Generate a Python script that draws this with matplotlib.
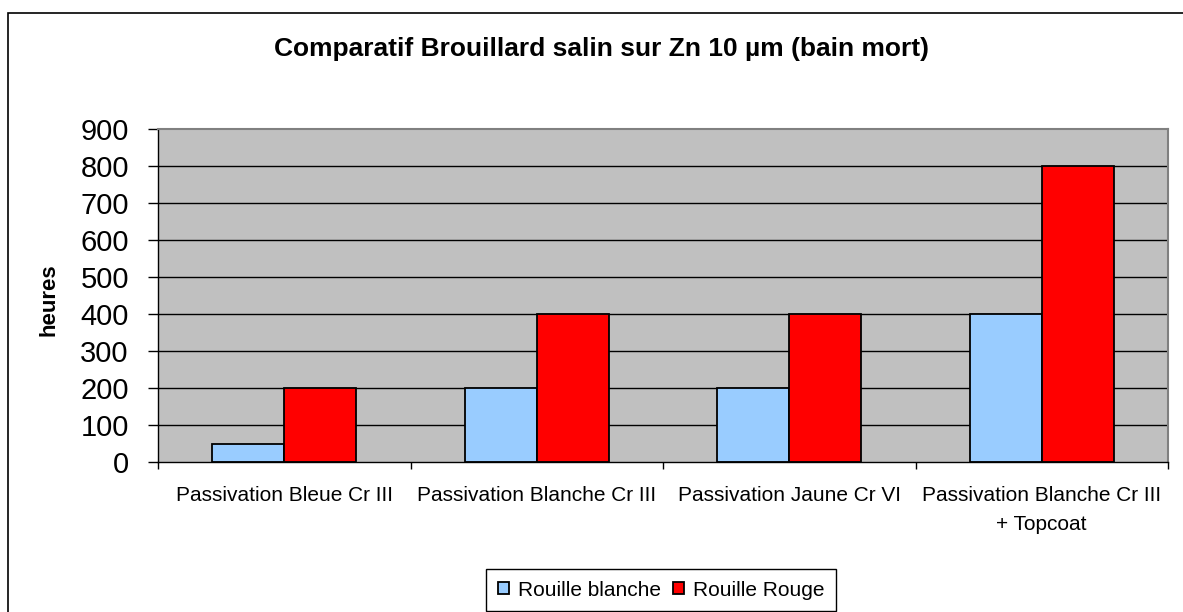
import matplotlib
matplotlib.use("Agg")
import matplotlib.pyplot as plt
from matplotlib.patches import Rectangle
from matplotlib.ticker import FixedLocator, NullFormatter
import numpy as np

plt.rcParams['font.family'] = ['Liberation Sans', 'DejaVu Sans']

title = "Comparatif Brouillard salin sur Zn 10 µm (bain mort)"
categories = ["Passivation Bleue Cr III", "Passivation Blanche Cr III",
              "Passivation Jaune Cr VI", "Passivation Blanche Cr III\n+ Topcoat"]
series_names = ["Rouille blanche", "Rouille Rouge"]
rouille_blanche = [50, 200, 200, 400]
rouille_rouge = [200, 400, 400, 800]
y_ticks = [0, 100, 200, 300, 400, 500, 600, 700, 800, 900]
y_label = "heures"

W, H = 1183, 612
fig = plt.figure(figsize=(W / 100, H / 100), dpi=100)
fig.patch.set_facecolor('white')

# plot area in pixels: x 158-1168, y 129-462
L, R, T, B = 158, 1168, 129, 462
ax = fig.add_axes([L / W, 1 - B / H, (R - L) / W, (B - T) / H])
ax.set_facecolor('#C0C0C0')

x = np.arange(len(categories))
bw = 0.285
ax.bar(x - bw / 2, rouille_blanche, bw, color='#99CCFF', edgecolor='black',
       linewidth=1.3, label=series_names[0], zorder=3)
ax.bar(x + bw / 2, rouille_rouge, bw, color='#FF0000', edgecolor='black',
       linewidth=1.3, label=series_names[1], zorder=3)

ax.set_xlim(-0.5, len(categories) - 0.5)
ax.set_ylim(0, 900)
ax.set_yticks(y_ticks)
ax.set_yticklabels([str(v) for v in y_ticks], fontsize=21)
ax.tick_params(axis='y', direction='out', length=7, width=1, pad=14, color='black')

ax.set_xticks(x)
ax.set_xticklabels(categories, fontsize=15, linespacing=1.7)
ax.tick_params(axis='x', which='major', length=0, pad=17)
ax.xaxis.set_minor_locator(FixedLocator(np.arange(-0.5, len(categories), 1.0)))
ax.xaxis.set_minor_formatter(NullFormatter())
ax.tick_params(axis='x', which='minor', direction='out', length=5, width=1, color='black')

for v in y_ticks[1:-1]:
    ax.axhline(v, color='black', linewidth=1, zorder=1)

ax.spines['left'].set_color('black')
ax.spines['bottom'].set_color('black')
ax.spines['left'].set_linewidth(1)
ax.spines['bottom'].set_linewidth(1)
ax.spines['top'].set_color('#808080')
ax.spines['right'].set_color('#808080')
ax.spines['top'].set_linewidth(1.5)
ax.spines['right'].set_linewidth(1.5)
for s in ax.spines.values():
    s.set_zorder(4)

ax.set_ylabel(y_label, fontsize=16, fontweight='bold', va='center')
ax.yaxis.set_label_coords((49 - L) / (R - L), (B - 300) / (B - T))

fig.text(602 / W, 1 - 49 / H, title, fontsize=19, fontweight='bold',
         ha='center', va='center')

leg = fig.legend(loc='center', bbox_to_anchor=(661 / W, 1 - 590 / H), ncol=2,
                 fontsize=15, frameon=True, fancybox=False, framealpha=1,
                 edgecolor='black', handlelength=0.55, handleheight=0.55,
                 handletextpad=0.4, columnspacing=0.6, borderpad=0.55,
                 borderaxespad=0)
leg.get_frame().set_linewidth(1)

fig.add_artist(Rectangle((8 / W, -0.1), 1.2, 1 - 13 / H + 0.1,
                         transform=fig.transFigure, fill=False,
                         edgecolor='black', linewidth=1.2))

fig.savefig("out.png", dpi=100, facecolor='white')
